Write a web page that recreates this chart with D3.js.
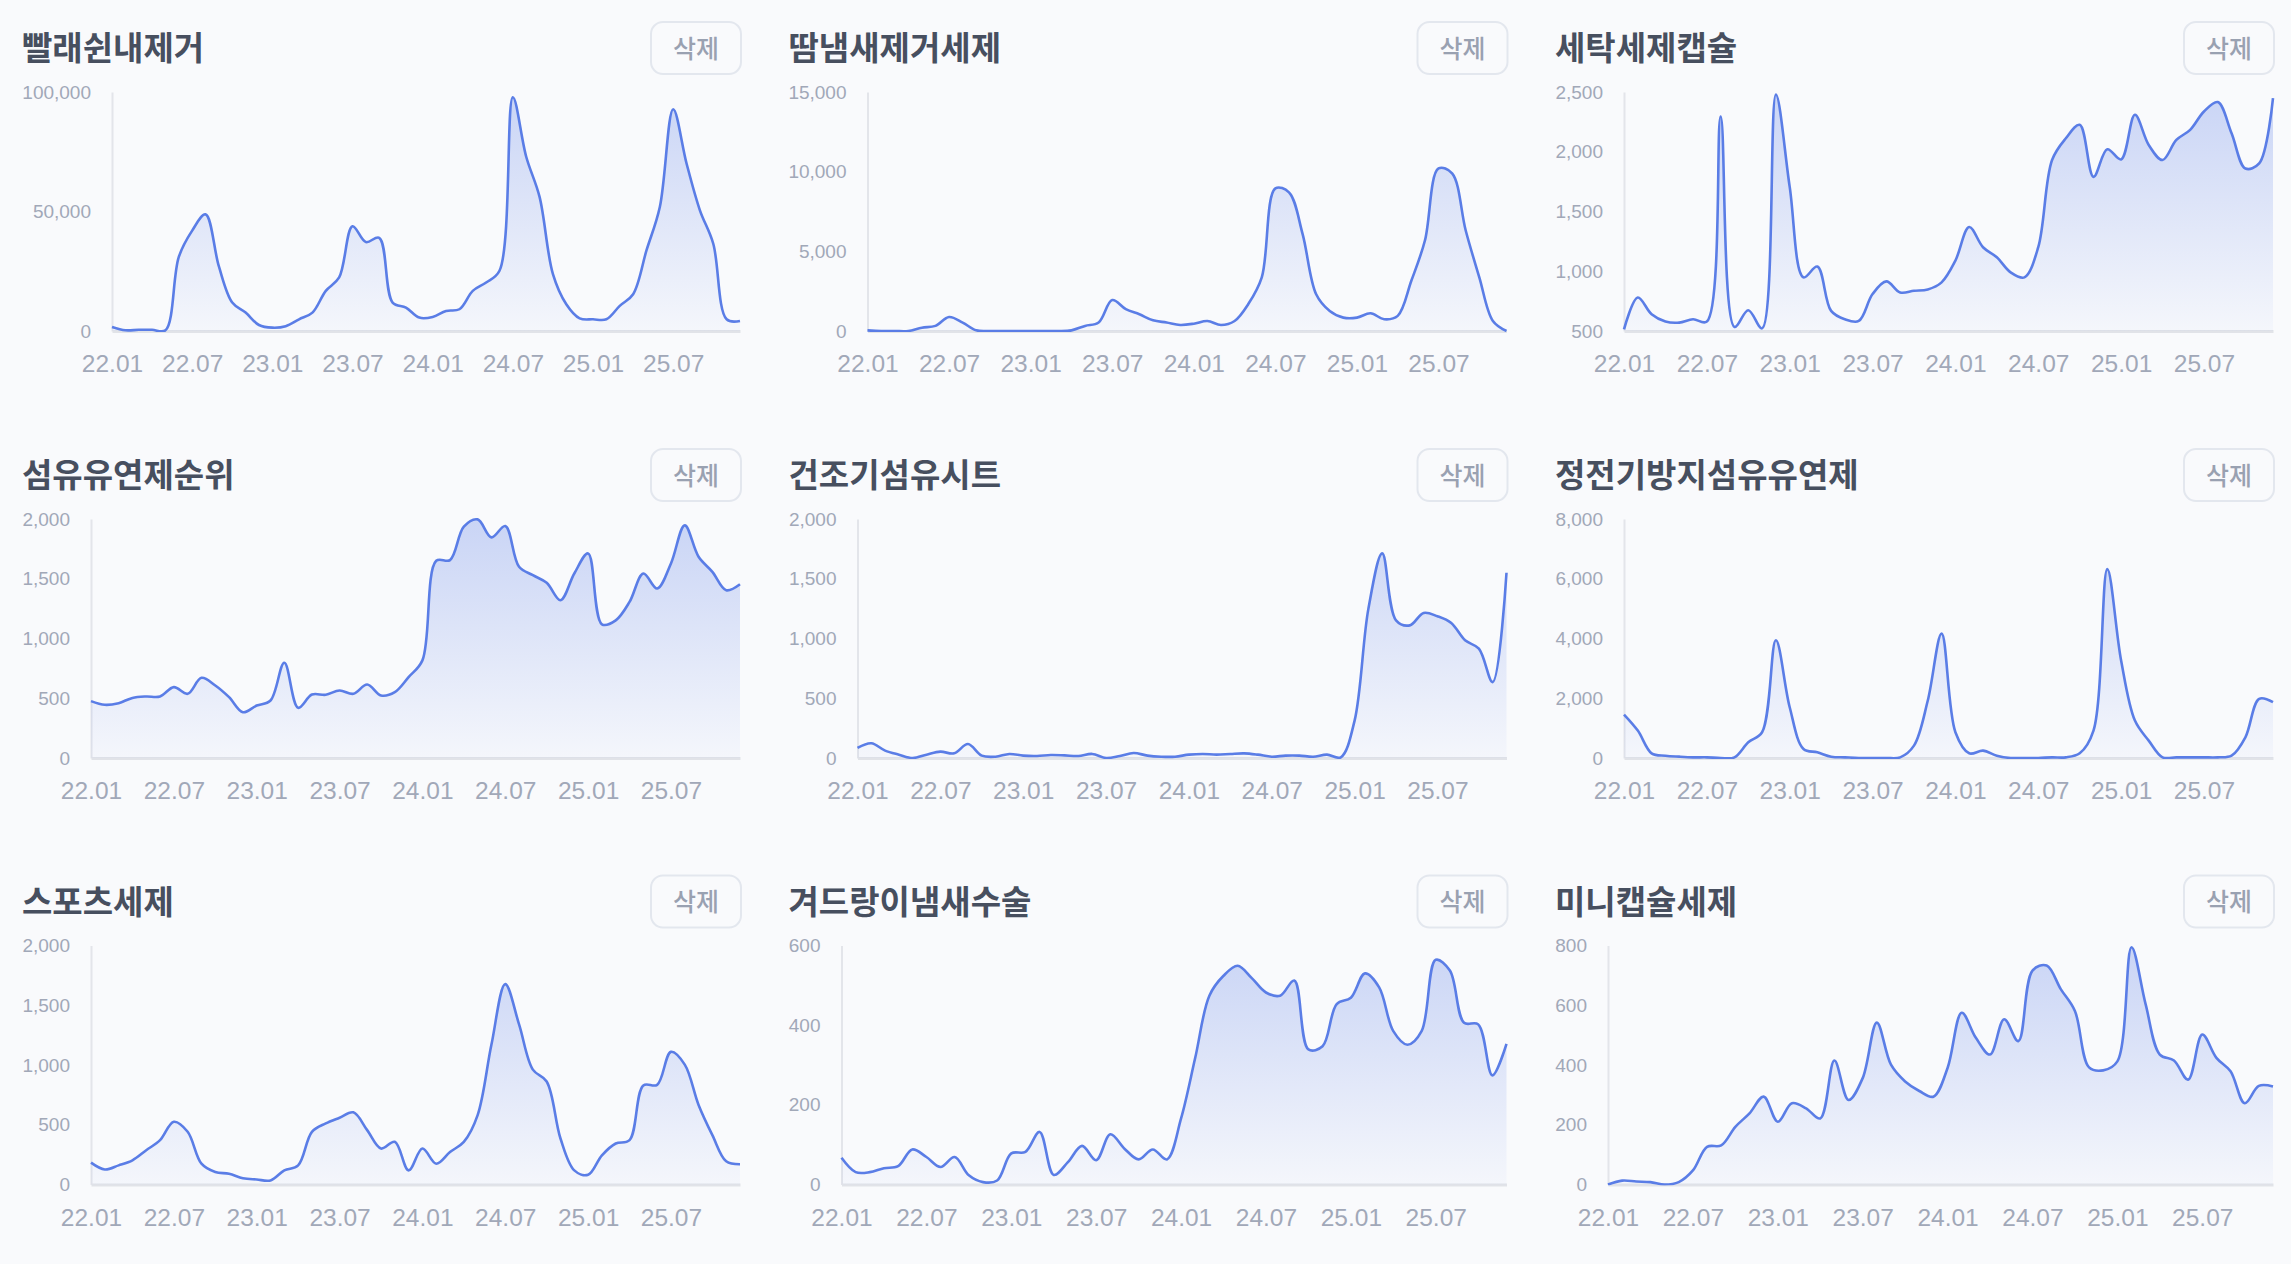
<!DOCTYPE html>
<html>
<head>
<meta charset="utf-8">
<script src="https://cdn.jsdelivr.net/npm/d3@7"></script>
<style>
  html, body { margin: 0; padding: 0; background: #f9fafc; }
  svg { display: block; }
</style>
</head>
<body>
<svg></svg>
<script>
// Fixed canvas
const svgWidth = 2291;
const svgHeight = 1264;

const svg = d3.select("svg")
    .attr("width", svgWidth)
    .attr("height", svgHeight);

// Categories (months 22.01 .. 25.12)
const months = [
    "22.01","22.02","22.03","22.04","22.05","22.06","22.07","22.08","22.09","22.10","22.11","22.12",
    "23.01","23.02","23.03","23.04","23.05","23.06","23.07","23.08","23.09","23.10","23.11","23.12",
    "24.01","24.02","24.03","24.04","24.05","24.06","24.07","24.08","24.09","24.10","24.11","24.12",
    "25.01","25.02","25.03","25.04","25.05","25.06","25.07","25.08","25.09","25.10","25.11","25.12"
];
const xTickLabels = ["22.01","22.07","23.01","23.07","24.01","24.07","25.01","25.07"];

const titles = ["빨래쉰내제거", "땀냄새제거세제", "세탁세제캡슐",
                "섬유유연제순위", "건조기섬유시트", "정전기방지섬유유연제",
                "스포츠세제", "겨드랑이냄새수술", "미니캡슐세제"];

// Series values
const laundryOdor = [1700, 300, 500, 500, 300, 31000, 42000, 48800, 27000, 11900, 7700, 2500,
    1400, 2000, 4900, 7700, 16800, 22400, 43800, 37200, 39000, 11900, 9800, 5600,
    5900, 8400, 9100, 16800, 20300, 25200, 97800, 72900, 56100, 23800, 11200, 5300,
    4900, 4900, 10500, 15400, 33700, 51900, 92800, 70100, 50500, 36500, 4900, 4200];
const sweatDetergent = [40, 0, 0, 0, 210, 320, 880, 530, 40, 0, 0, 0,
    0, 0, 0, 40, 320, 530, 1940, 1370, 1050, 670, 530, 380,
    460, 630, 380, 630, 1680, 3370, 8950, 8700, 6100, 2310, 1260, 840,
    840, 1110, 740, 950, 3150, 5680, 10200, 9890, 6310, 3370, 630, 0];
const capsuleDetergent = [514, 780, 640, 579, 570, 598, 579, 2295, 534, 674, 522, 2478,
    1706, 949, 1039, 668, 598, 584, 809, 915, 823, 837, 848, 907,
    1089, 1370, 1201, 1117, 991, 949, 1201, 1931, 2113, 2225, 1790, 2020,
    1936, 2309, 2057, 1931, 2099, 2183, 2337, 2416, 2155, 1860, 1902, 2449];
const softenerRank = [476, 445, 459, 503, 515, 515, 593, 537, 671, 607, 509, 383,
    439, 481, 797, 420, 531, 529, 565, 537, 615, 523, 551, 677,
    817, 1650, 1656, 1936, 1997, 1846, 1941, 1600, 1530, 1466, 1320, 1544,
    1712, 1119, 1152, 1306, 1544, 1418, 1628, 1947, 1684, 1558, 1404, 1454];
const dryerSheet = [84, 123, 62, 28, 0, 28, 53, 39, 117, 20, 11, 34,
    20, 17, 25, 22, 17, 34, 0, 17, 42, 20, 11, 11,
    28, 34, 28, 34, 39, 28, 11, 20, 20, 11, 28, 6,
    313, 1250, 1712, 1152, 1110, 1214, 1186, 1130, 985, 915, 635, 1550];
const antistaticSoftener = [1455, 917, 157, 78, 45, 22, 22, 0, 22, 526, 862, 3940,
    1700, 302, 190, 45, 22, 0, 0, 0, 22, 414, 1924, 4162,
    862, 157, 246, 78, 0, 0, 0, 22, 22, 157, 917, 6322,
    3267, 1253, 582, 22, 22, 22, 22, 22, 78, 694, 1980, 1868];
const sportsDetergent = [183, 126, 160, 202, 287, 371, 525, 441, 174, 104, 90, 53,
    42, 34, 118, 160, 441, 511, 559, 604, 455, 301, 357, 118,
    301, 174, 272, 357, 581, 1171, 1677, 1340, 961, 862, 385, 118,
    81, 244, 343, 371, 829, 834, 1110, 1003, 666, 413, 194, 169];
const underarmSurgery = [67, 31, 31, 41, 46, 88, 69, 44, 69, 23, 6, 10,
    78, 82, 132, 24, 56, 97, 61, 126, 90, 63, 88, 63,
    166, 318, 474, 524, 549, 518, 482, 474, 512, 339, 347, 453,
    469, 530, 495, 385, 351, 385, 564, 537, 406, 402, 274, 353];
const miniCapsule = [0, 13, 10, 8, 0, 8, 47, 126, 131, 193, 238, 294,
    210, 272, 255, 221, 415, 283, 356, 542, 401, 345, 313, 294,
    390, 575, 491, 435, 553, 480, 716, 733, 654, 581, 392, 382,
    412, 794, 603, 435, 415, 351, 502, 424, 379, 272, 330, 328];

const seriesList = [laundryOdor, sweatDetergent, capsuleDetergent,
                    softenerRank, dryerSheet, antistaticSoftener,
                    sportsDetergent, underarmSurgery, miniCapsule];

// Y tick labels per panel
const yTicksList = [
    [0, 50000, 100000],
    [0, 5000, 10000, 15000],
    [500, 1000, 1500, 2000, 2500],
    [0, 500, 1000, 1500, 2000],
    [0, 500, 1000, 1500, 2000],
    [0, 2000, 4000, 6000, 8000],
    [0, 500, 1000, 1500, 2000],
    [0, 200, 400, 600],
    [0, 200, 400, 600, 800]
];

// Layout
const colX = [22, 788.5, 1555];
const rowY = [0, 427, 853.5];
const panelW = 718;
const plotTop = 92;
const plotBottom = 331;

const lineColor = "#5a7de6";
const labelColor = "#a1a8b8";
const labelFont = "'Liberation Sans', Arial, Helvetica, sans-serif";
const cjkFont = "'Noto Sans CJK KR', 'Noto Sans', sans-serif";

const defs = svg.append("defs");

seriesList.forEach((values, k) => {
    const c = k % 3, r = Math.floor(k / 3);
    const g = svg.append("g").attr("transform", `translate(${colX[c]},${rowY[r]})`);

    // Title
    g.append("text")
        .attr("x", 0)
        .attr("y", 60)
        .attr("font-family", cjkFont)
        .attr("font-weight", 700)
        .attr("font-size", "33px")
        .attr("fill", "#474f5f")
        .text(titles[k]);

    // Delete button
    g.append("rect")
        .attr("x", 629).attr("y", 22)
        .attr("width", 90).attr("height", 52)
        .attr("rx", 12)
        .attr("fill", "#f9fafc")
        .attr("stroke", "#e3e7ee")
        .attr("stroke-width", 2);
    g.append("text")
        .attr("x", 674).attr("y", 57.5)
        .attr("text-anchor", "middle")
        .attr("font-family", cjkFont)
        .attr("font-weight", 500)
        .attr("font-size", "25px")
        .attr("fill", "#99a1b1")
        .text("삭제");

    const ticks = yTicksList[k];
    const y = d3.scaleLinear()
        .domain([ticks[0], ticks[ticks.length - 1]])
        .range([plotBottom, plotTop]);

    // Y axis (measure labels first, then shift)
    const yAxis = g.append("g")
        .call(d3.axisLeft(y).tickValues(ticks).tickSize(0).tickSizeOuter(0)
            .tickPadding(21).tickFormat(d3.format(",")));
    yAxis.selectAll("text")
        .attr("font-family", labelFont)
        .attr("font-size", "19px")
        .attr("fill", labelColor);
    const maxW = d3.max(yAxis.selectAll("text").nodes(), n => n.getComputedTextLength());
    const axisX = Math.round(maxW + 21);
    yAxis.attr("transform", `translate(${axisX},0)`);
    yAxis.select(".domain").attr("stroke", "#e3e5ea").attr("stroke-width", 2);

    const x = d3.scalePoint().domain(months).range([axisX, panelW]);

    const xAxis = g.append("g")
        .attr("transform", `translate(0,${plotBottom})`)
        .call(d3.axisBottom(x).tickValues(xTickLabels).tickSize(0).tickSizeOuter(0).tickPadding(24));
    xAxis.selectAll("text")
        .attr("font-family", labelFont)
        .attr("font-size", "24.5px")
        .attr("fill", labelColor);
    xAxis.select(".domain").attr("stroke", "#e1e3e8").attr("stroke-width", 3);

    // Gradient fill
    const grad = defs.append("linearGradient")
        .attr("id", "grad" + k)
        .attr("gradientUnits", "userSpaceOnUse")
        .attr("x1", 0).attr("x2", 0)
        .attr("y1", plotTop).attr("y2", plotBottom);
    grad.append("stop").attr("offset", "0%").attr("stop-color", lineColor).attr("stop-opacity", 0.3);
    grad.append("stop").attr("offset", "100%").attr("stop-color", lineColor).attr("stop-opacity", 0.03);

    // Clip to chart area
    defs.append("clipPath").attr("id", "clip" + k)
        .append("rect")
        .attr("x", axisX - 2).attr("y", plotTop - 3)
        .attr("width", panelW - axisX + 4).attr("height", plotBottom - plotTop + 4);

    const curve = d3.curveCatmullRom.alpha(0.5);
    const area = d3.area()
        .x((d, i) => x(months[i]))
        .y0(plotBottom)
        .y1(d => y(d))
        .curve(curve);
    const line = d3.line()
        .x((d, i) => x(months[i]))
        .y(d => y(d))
        .curve(curve);

    const plot = g.append("g").attr("clip-path", `url(#clip${k})`);
    plot.append("path")
        .datum(values)
        .attr("d", area)
        .attr("fill", `url(#grad${k})`);
    plot.append("path")
        .datum(values)
        .attr("d", line)
        .attr("fill", "none")
        .attr("stroke", lineColor)
        .attr("stroke-width", 2.6)
        .attr("stroke-linejoin", "round");
});
</script>
</body>
</html>
